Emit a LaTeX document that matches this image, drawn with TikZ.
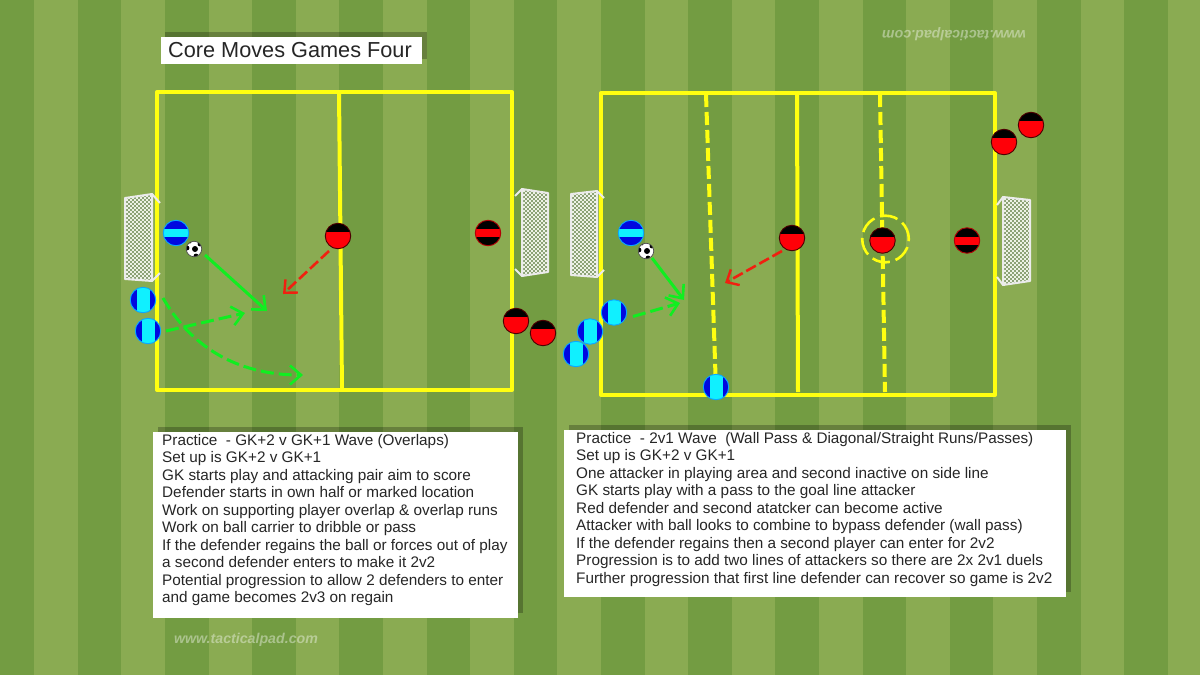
\documentclass[tikz,border=0pt]{standalone}
\usepackage{fontspec}
\setmainfont{Liberation Sans}
\usetikzlibrary{arrows.meta,calc}
\definecolor{pdark}{HTML}{739C42}
\definecolor{plight}{HTML}{8AAB52}
\definecolor{lineyel}{HTML}{FFFF10}
\definecolor{arrgreen}{HTML}{10EE20}
\definecolor{arrred}{HTML}{F02010}
\definecolor{pblue}{HTML}{0008E0}
\definecolor{pcyan}{HTML}{10F0FF}
\definecolor{pred}{HTML}{FF0008}
\definecolor{meshbase}{HTML}{6F8A55}
\tikzset{
  x=1pt,y=-1pt,
  fieldline/.style={draw=lineyel,line width=4pt,line join=round},
  plainline/.style={draw=lineyel,line width=4pt},
  dashline/.style={draw=lineyel,line width=4pt,dash pattern=on 13pt off 5pt},
  playerbase/.style={circle,minimum size=25.5pt,inner sep=0pt,line width=0.9pt},
  blueH/.style={playerbase,draw=pcyan!70!blue,fill=pblue,path picture={
    \fill[pcyan] ([xshift=-14pt,yshift=-4pt]path picture bounding box.center) rectangle ++(28pt,8pt);}},
  blueV/.style={playerbase,draw=pcyan!70!blue,fill=pcyan,path picture={
    \fill[pblue] ([xshift=-14pt,yshift=-14pt]path picture bounding box.center) rectangle ++(7.7pt,28pt);
    \fill[pblue] ([xshift=6.5pt,yshift=-14pt]path picture bounding box.center) rectangle ++(7.7pt,28pt);}},
  redH/.style={playerbase,draw=black!70!pred,fill=pred,path picture={
    \fill[black] ([xshift=-14pt,yshift=14pt]path picture bounding box.center) rectangle ++(28pt,-10pt);}},
  redS/.style={playerbase,draw=pred!70!black,fill=black,path picture={
    \fill[pred] ([xshift=-14pt,yshift=-4pt]path picture bounding box.center) rectangle ++(28pt,8pt);}},
  ballnode/.style={circle,minimum size=15.5pt,inner sep=0pt,fill=white,draw=black!70,line width=0.7pt,path picture={
    \coordinate (bc) at (path picture bounding box.center);
    \fill[black] ($(bc)+(1pt,0pt)$) circle (3pt);
    \fill[black] ($(bc)+(-7pt,1pt)$) circle (2.4pt);
    \fill[black] ($(bc)+(6pt,5pt)$) circle (2.4pt);
    \fill[black] ($(bc)+(2pt,-7pt)$) circle (2.4pt);
    \fill[black] ($(bc)+(-4pt,7pt)$) circle (1.5pt);}},
  grunsolid/.style={draw=arrgreen,line width=3pt,-{Straight Barb[length=11pt,width=19pt,line width=2.6pt]}},
  grunbroken/.style={grunsolid,dash pattern=on 13pt off 5pt},
  redrun/.style={draw=arrred,line width=2.6pt,dash pattern=on 11pt off 4pt,-{Straight Barb[length=10pt,width=18pt,line width=2.4pt]}},
  textbox/.style={fill=white,inner sep=0pt,anchor=north west},
  shadowbox/.style={fill=black,fill opacity=0.25},
  notes/.style={anchor=north west,inner sep=0pt,align=left,font=\fontsize{15.3pt}{17.5pt}\selectfont,text=black!85},
  goalframe/.style={draw=white!92!black,line width=2pt,line join=round},
  goalmesh/.style={fill=meshbase},
  meshline/.style={draw=white!85!plight,line width=0.9pt},
  ringline/.style={draw=lineyel,line width=2.6pt,dash pattern=on 18pt off 6pt},
}
\newcommand{\goalshape}[4]{% four corners
  \fill[goalmesh] #1 -- #2 -- #3 -- #4 -- cycle;
  \begin{scope}
    \clip #1 -- #2 -- #3 -- #4 -- cycle;
    \coordinate (gc) at #1;
    \foreach \m in {-120,-116,...,120}{
      \draw[meshline] ($(gc)+(\m,0)+(-120,-120)$) -- ($(gc)+(\m,0)+(120,120)$);
      \draw[meshline] ($(gc)+(\m,0)+(-120,120)$) -- ($(gc)+(\m,0)+(120,-120)$);
    }
  \end{scope}
  \draw[goalframe] #1 -- #2 -- #3 -- #4 -- cycle;
}
\begin{document}
\begin{tikzpicture}
\useasboundingbox (0,0) rectangle (1200,675);
% pitch stripes
\fill[plight] (0,0) rectangle (1200,675);
\foreach \k in {-4,-2,...,24}{
  \fill[pdark] ({165+43.6*\k},0) rectangle ({165+43.6*(\k+1)},675);
}
% watermarks
\node[inner sep=0pt,text=white,opacity=0.4,font=\fontsize{14.2pt}{14.2pt}\selectfont\itshape\bfseries,rotate=180] (wmtop) at (954,34) {www.tacticalpad.com};
\node[inner sep=0pt,text=white,opacity=0.4,font=\fontsize{14.2pt}{14.2pt}\selectfont\itshape\bfseries] (wmbot) at (246,640) {www.tacticalpad.com};
% fields
\draw[fieldline] (157,92) rectangle (512,390);
\draw[plainline] (339,92) -- (342,390);
\draw[fieldline] (601,93) rectangle (995,395);
\draw[dashline] (706,94) -- (716,390);
\draw[plainline] (797,94) -- (798,392);
\draw[dashline] (880,94) -- (885,392);
% goals
\goalshape{(125,198)}{(152,194)}{(152,281)}{(125,279)}
\draw[goalframe] (152,194) -- (160,203) (152,281) -- (160,273);
\goalshape{(522,189)}{(548,193)}{(548,272)}{(522,276)}
\draw[goalframe] (522,189) -- (515,196) (522,276) -- (515,269);
\goalshape{(571,194)}{(597,191)}{(597,277)}{(571,275)}
\draw[goalframe] (597,191) -- (604,198) (597,277) -- (604,270);
\goalshape{(1003,197)}{(1030,200)}{(1030,281)}{(1003,285)}
\draw[goalframe] (1003,197) -- (997,205) (1003,285) -- (997,277);
% marked circle
\draw[ringline] (885.5,239) circle (23.3pt);
% players left
\node[blueH] (a1) at (176,233) {};
\node[ballnode] (b1) at (194,249) {};
\node[blueV] (a2) at (143,300) {};
\node[blueV] (a3) at (148,331) {};
\node[redH] (d1) at (338,236) {};
\node[redS] (k1) at (488,233) {};
\node[redH] (d2) at (516,321) {};
\node[redH] (d3) at (543,333) {};
% players right
\node[blueH] (a4) at (631,233) {};
\node[ballnode] (b2) at (646,251) {};
\node[blueV] (a5) at (614,312.5) {};
\node[blueV] (a6) at (590,331.5) {};
\node[blueV] (a7) at (576,354) {};
\node[blueV] (a8) at (716,387) {};
\node[redH] (d4) at (792,238) {};
\node[redH] (d5) at (882.5,240.5) {};
\node[redS] (k2) at (967,240.5) {};
\node[redH] (d6) at (1004,142) {};
\node[redH] (d7) at (1031,125) {};
% free ends
\coordinate (e1) at (267,311);
\coordinate (e2) at (245,313);
\coordinate (e3) at (303,375);
\coordinate (e4) at (283,294);
\coordinate (e5) at (684,300);
\coordinate (e6) at (680,303);
\coordinate (e7) at (725,283);
% connectors
\draw[grunsolid] (b1) ++(11,6) -- (e1);
\draw[grunbroken] (a3) ++(18,0) -- (e2);
\draw[grunbroken] (a2) ++(20,-2) .. controls (190,345) and (235,375) .. (e3);
\draw[redrun] (d1) ++(-9,15) -- (e4);
\draw[grunsolid] (b2) ++(6,7) -- (e5);
\draw[grunbroken] (a5) ++(19,4) -- (e6);
\draw[redrun] (d4) ++(-10,13) -- (e7);
% title
\fill[shadowbox] (165,32) rectangle (427,59);
\node[textbox,minimum width=261pt,minimum height=27pt] (titlebox) at (161,37) {};
\node[anchor=west,inner sep=0pt,font=\fontsize{21.7pt}{21.7pt}\selectfont,text=black!85] (title) at (168,50.5) {Core Moves Games Four};
% left notes
\fill[shadowbox] (158,427) rectangle (523,613);
\node[textbox,minimum width=365pt,minimum height=186pt] (lbox) at (153,432) {};
\node[notes] (ltext) at (162,434) {Practice\ \ - GK+2 v GK+1 Wave (Overlaps)\\
Set up is GK+2 v GK+1\\
GK starts play and attacking pair aim to score\\
Defender starts in own half or marked location\\
Work on supporting player overlap \& overlap runs\\
Work on ball carrier to dribble or pass\\
If the defender regains the ball or forces out of play\\
a second defender enters to make it 2v2\\
Potential progression to allow 2 defenders to enter\\
and game becomes 2v3 on regain};
% right notes
\fill[shadowbox] (569,425) rectangle (1071,592);
\node[textbox,minimum width=502pt,minimum height=167pt] (rbox) at (564,430) {};
\node[notes] (rtext) at (576,432) {Practice\ \ - 2v1 Wave\ \ (Wall Pass \& Diagonal/Straight Runs/Passes)\\
Set up is GK+2 v GK+1\\
One attacker in playing area and second inactive on side line\\
GK starts play with a pass to the goal line attacker\\
Red defender and second atatcker can become active\\
Attacker with ball looks to combine to bypass defender (wall pass)\\
If the defender regains then a second player can enter for 2v2\\
Progression is to add two lines of attackers so there are 2x 2v1 duels\\
Further progression that first line defender can recover so game is 2v2};
\end{tikzpicture}
\end{document}
